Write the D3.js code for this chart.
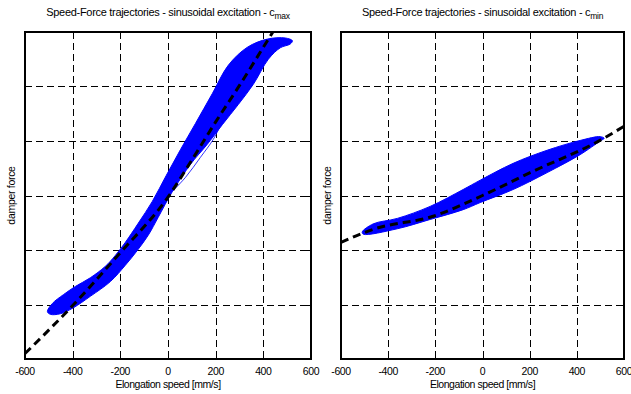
<!DOCTYPE html>
<meta charset="utf-8">
<style>
body { margin: 0; background: #fff; }
text { font-family: "Liberation Sans", Arial, sans-serif; fill: #000; }
.grid line { stroke: #000; stroke-width: 1; stroke-dasharray: 7,4; shape-rendering: crispEdges; }
.frame { fill: none; stroke: #000; stroke-width: 1.3; shape-rendering: crispEdges; }
.tick-mark { stroke: #000; stroke-width: 1; shape-rendering: crispEdges; }
</style>
<body>
<script src="https://cdn.jsdelivr.net/npm/d3@7"></script>
<script>

// x ticks (elongation speed, mm/s); force axis has no labels, grid at unit steps
var xTicks = [-600, -400, -200, 0, 200, 400, 600];
var yTicks = [-3, -2, -1, 0, 1, 2, 3];

// c_max : envelope of the trajectory band (upper edge then lower edge)
var bandMaxX = [-506, -485, -439, -389, -326, -263, -221, -179, -125, -66, -7, 52, 115, 186, 253, 333, 417, 492, 522,
                513, 471, 421, 358, 295, 228, 165, 94, 18, -41, -83, -129, -179, -242, -326, -397, -452, -494];
var bandMaxY = [-2.13, -1.98, -1.82, -1.67, -1.51, -1.30, -1.10, -0.86, -0.51, -0.11, 0.37, 0.84, 1.32, 1.87, 2.39, 2.72, 2.87, 2.89, 2.84,
                2.78, 2.71, 2.50, 2.04, 1.67, 1.30, 0.94, 0.57, 0.07, -0.40, -0.73, -1.01, -1.28, -1.58, -1.85, -2.06, -2.17, -2.18];
// one stray trajectory on the right of the c_max band
var strayX = [1, 73, 136, 190, 228, 253];
var strayY = [0.0, 0.33, 0.70, 1.03, 1.36, 1.62];
// c_max reference (dashed)
var refMaxX = [-600, -400, -200, 0, 100, 200, 300, 400, 440];
var refMaxY = [-2.90, -2.02, -1.05, -0.03, 0.65, 1.35, 2.02, 2.72, 3.0];

// c_min band
var bandMinX = [-510, -463, -361, -222, -82, -10, 130, 274, 414, 499, 516,
                499, 414, 274, 130, -10, -82, -222, -361, -505];
var bandMinY = [-0.67, -0.52, -0.42, -0.20, 0.11, 0.28, 0.59, 0.83, 1.01, 1.08, 1.05,
                1.00, 0.75, 0.42, 0.11, -0.13, -0.26, -0.44, -0.61, -0.71];
// c_min reference (dashed)
var refMinX = [-600, -463, -209, 0, 202, 506, 600];
var refMinY = [-0.86, -0.62, -0.38, 0.0, 0.42, 1.03, 1.27];

var svg = d3.select("body").append("svg")
    .attr("width", 631)
    .attr("height", 394);

function zip(xs, ys) {
  return xs.map(function(v, i) { return [v, ys[i]]; });
}

function panel(opt) {
  var x = d3.scaleLinear().domain([-600, 600]).range([opt.left, opt.right]);
  var y = d3.scaleLinear().domain([-3, 3]).range([opt.bottom, opt.top]);
  var g = svg.append("g");

  var clipId = "clip" + opt.id;
  svg.append("clipPath").attr("id", clipId)
    .append("rect")
      .attr("x", opt.left).attr("y", opt.top)
      .attr("width", opt.right - opt.left).attr("height", opt.bottom - opt.top);

  // grid
  var grid = g.append("g").attr("class", "grid");
  grid.selectAll(".gx").data(xTicks.slice(1, -1)).enter().append("line")
      .attr("x1", function(d) { return Math.round(x(d)) + 0.5; })
      .attr("x2", function(d) { return Math.round(x(d)) + 0.5; })
      .attr("y1", opt.top).attr("y2", opt.bottom);
  grid.selectAll(".gy").data(yTicks.slice(1, -1)).enter().append("line")
      .attr("y1", function(d) { return Math.round(y(d)) + 0.5; })
      .attr("y2", function(d) { return Math.round(y(d)) + 0.5; })
      .attr("x1", opt.left).attr("x2", opt.right);

  var line = d3.line().x(function(d) { return x(d[0]); }).y(function(d) { return y(d[1]); });
  var plot = g.append("g").attr("clip-path", "url(#" + clipId + ")");

  plot.append("path")
      .attr("d", line.curve(d3.curveCatmullRomClosed)(zip(opt.bandX, opt.bandY)))
      .attr("fill", "#0000ff")
      .attr("stroke", "#0000ff")
      .attr("stroke-width", 1);

  if (opt.strayX) {
    plot.append("path")
        .attr("d", line.curve(d3.curveCatmullRom)(zip(opt.strayX, opt.strayY)))
        .attr("fill", "none")
        .attr("stroke", "#0000ff")
        .attr("stroke-width", 0.8);
  }

  plot.append("path")
      .attr("d", line.curve(d3.curveMonotoneX)(zip(opt.refX, opt.refY)))
      .attr("fill", "none")
      .attr("stroke", "#000")
      .attr("stroke-width", 3)
      .attr("stroke-dasharray", "8,5");

  // frame and inward ticks
  g.append("rect").attr("class", "frame")
      .attr("x", opt.left).attr("y", opt.top)
      .attr("width", opt.right - opt.left).attr("height", opt.bottom - opt.top);

  var tk = g.append("g");
  xTicks.slice(1, -1).forEach(function(d) {
    var px = Math.round(x(d)) + 0.5;
    tk.append("line").attr("class", "tick-mark").attr("x1", px).attr("x2", px).attr("y1", opt.top).attr("y2", opt.top + 4);
    tk.append("line").attr("class", "tick-mark").attr("x1", px).attr("x2", px).attr("y1", opt.bottom).attr("y2", opt.bottom - 4);
  });
  yTicks.slice(1, -1).forEach(function(d) {
    var py = Math.round(y(d)) + 0.5;
    tk.append("line").attr("class", "tick-mark").attr("y1", py).attr("y2", py).attr("x1", opt.left).attr("x2", opt.left + 4);
    tk.append("line").attr("class", "tick-mark").attr("y1", py).attr("y2", py).attr("x1", opt.right).attr("x2", opt.right - 4);
  });

  // tick labels
  g.selectAll(".xl").data(xTicks).enter().append("text")
      .attr("x", function(d) { return x(d); })
      .attr("y", opt.bottom + 16)
      .attr("text-anchor", "middle")
      .attr("font-size", 10.5)
      .attr("letter-spacing", -0.4)
      .text(function(d) { return d; });

  g.append("text")
      .attr("x", (opt.left + opt.right) / 2)
      .attr("y", opt.bottom + 29)
      .attr("text-anchor", "middle")
      .attr("font-size", 10.5)
      .attr("letter-spacing", -0.45)
      .text("Elongation speed [mm/s]");

  g.append("text")
      .attr("transform", "translate(" + (opt.left - 10) + "," + ((opt.top + opt.bottom) / 2) + ") rotate(-90)")
      .attr("text-anchor", "middle")
      .attr("font-size", 10.5)
      .attr("letter-spacing", -0.3)
      .text("damper force");

  var t = g.append("text")
      .attr("x", (opt.left + opt.right) / 2)
      .attr("y", 16)
      .attr("text-anchor", "middle")
      .attr("font-size", 11)
      .attr("letter-spacing", -0.3);
  t.append("tspan").text("Speed-Force trajectories - sinusoidal excitation - c");
  t.append("tspan").attr("font-size", 8.5).attr("dy", 3).text(opt.sub);
}

panel({ id: "max", left: 25, right: 311, top: 32, bottom: 359, sub: "max",
        bandX: bandMaxX, bandY: bandMaxY, strayX: strayX, strayY: strayY,
        refX: refMaxX, refY: refMaxY });
panel({ id: "min", left: 341, right: 624, top: 32, bottom: 359, sub: "min",
        bandX: bandMinX, bandY: bandMinY,
        refX: refMinX, refY: refMinY });

</script>
</body>
